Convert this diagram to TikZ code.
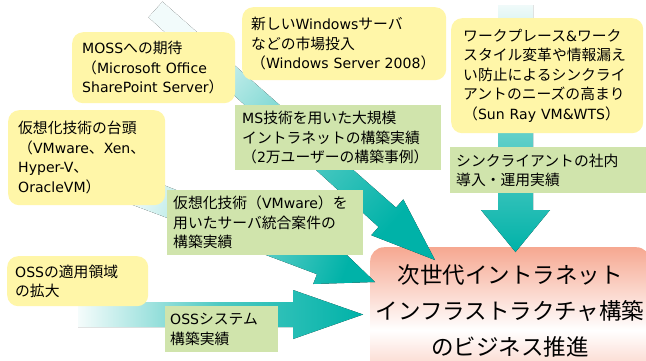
\documentclass[tikz,border=0pt]{standalone}
\usepackage{fontspec}
\setmainfont{Noto Sans CJK JP}
\newfontfamily\latf{DejaVu Sans}[Scale=0.95]
\newcommand{\LTN}[1]{{\latf #1}}
\newcommand{\smallfs}{\fontsize{14.8}{19.5}\selectfont}
\newcommand{\bigfs}{\fontsize{22.5}{36}\selectfont}
\definecolor{tealA}{RGB}{0,178,168}
\definecolor{yel}{RGB}{255,246,168}
\definecolor{grn}{RGB}{208,228,172}
\definecolor{salm}{RGB}{246,168,145}
\begin{document}
\begin{tikzpicture}[x=1pt,y=-1pt,
  ybox/.style={fill=yel, rounded corners=11pt, anchor=north west, inner ysep=0pt, align=left, font=\smallfs},
  gbox/.style={fill=grn, anchor=north west, inner ysep=0pt, align=left, font=\smallfs},
  goalbox/.style={top color=salm, bottom color=salm, middle color=white, rounded corners=14pt, anchor=north west, inner sep=0pt}]
\useasboundingbox (0,0) rectangle (646,360);
\fill[white] (0,0) rectangle (646,360);
\clip (0,0) rectangle (646,360);
% goal box
\node[goalbox, minimum width=280, minimum height=166] (goal) at (370,247) {};
% arrows
\coordinate (tipA) at (515.5,252);
\coordinate (tipB) at (435,260);
\coordinate (tipC) at (375,282);
\coordinate (tipD) at (363,314.5);
\fill[top color=tealA!6, bottom color=tealA, middle color=tealA!60]
  (498,5) -- (533,5) -- (533,210) -- (550,210) -- (tipA) -- (481,210) -- (498,210) -- cycle;
\fill[top color=tealA, bottom color=tealA!5, middle color=tealA!60, shading angle=228]
  (162.5,1.7) -- (396.0,207.6) -- (403.3,199.4) -- (tipB) -- (371.3,235.2) -- (378.6,227.0) -- (148.5,17.3) -- cycle;
\fill[top color=tealA, bottom color=tealA!10, middle color=tealA!55, shading angle=249]
  (128.3,171.2) -- (326.6,249.0) -- (330.4,239.2) -- (tipC) -- (313.2,284.0) -- (317.0,274.2) -- (117.5,199.2) -- cycle;
\fill[left color=tealA!4, right color=tealA, middle color=tealA!70]
  (78,302) -- (293,302) -- (293,290) -- (tipD) -- (293,339) -- (293,327) -- (78,327) -- cycle;
% goal text
\node[font=\bigfs, align=center] (goaltxt) at (510,311) {次世代イントラネット\\インフラストラクチャ構築\\のビジネス推進};
% yellow boxes
\node[ybox, minimum width=163, minimum height=71, inner xsep=10pt, text width=143pt] (moss) at (72,32)
  {\LTN{MOSS}への期待\\（\LTN{Microsoft Office}\\\LTN{SharePoint Server}）};
\node[ybox, minimum width=157, minimum height=95, inner xsep=10pt, text width=137pt] (virt) at (8,110)
  {仮想化技術の台頭\\（\LTN{VMware}、\LTN{Xen}、\\\LTN{Hyper-V}、\\\LTN{OracleVM}）};
\node[ybox, minimum width=204, minimum height=73, inner xsep=9pt, text width=186pt] (newwin) at (242,7)
  {新しい\LTN{Windows}サーバ\\などの市場投入\\（\LTN{Windows Server 2008}）};
\node[ybox, minimum width=192, minimum height=115, inner xsep=12pt, text width=168pt] (work) at (451,18)
  {ワークプレース\LTN{\&}ワーク\\スタイル変革や情報漏え\\い防止によるシンクライ\\アントのニーズの高まり\\（\LTN{Sun Ray VM\&WTS}）};
\node[ybox, minimum width=141, minimum height=50, inner xsep=8pt, text width=125pt] (oss) at (7,256)
  {\LTN{OSS}の適用領域\\の拡大};
% green boxes
\node[gbox, minimum width=206, minimum height=65, inner xsep=7pt, text width=192pt] (ms) at (235,105)
  {\LTN{MS}技術を用いた大規模\\イントラネットの構築実績\\（\LTN{2}万ユーザーの構築事例）};
\node[gbox, minimum width=200, minimum height=46, inner xsep=6pt, text width=188pt] (thin) at (450,147)
  {シンクライアントの社内\\導入・運用実績};
\node[gbox, minimum width=196, minimum height=65, inner xsep=6pt, text width=184pt] (vmw) at (167,190)
  {仮想化技術（\LTN{VMware}）を\\用いたサーバ統合案件の\\構築実績};
\node[gbox, minimum width=113, minimum height=46, inner xsep=5pt, text width=103pt] (osssys) at (165,306)
  {\LTN{OSS}システム\\構築実績};
\end{tikzpicture}
\end{document}
